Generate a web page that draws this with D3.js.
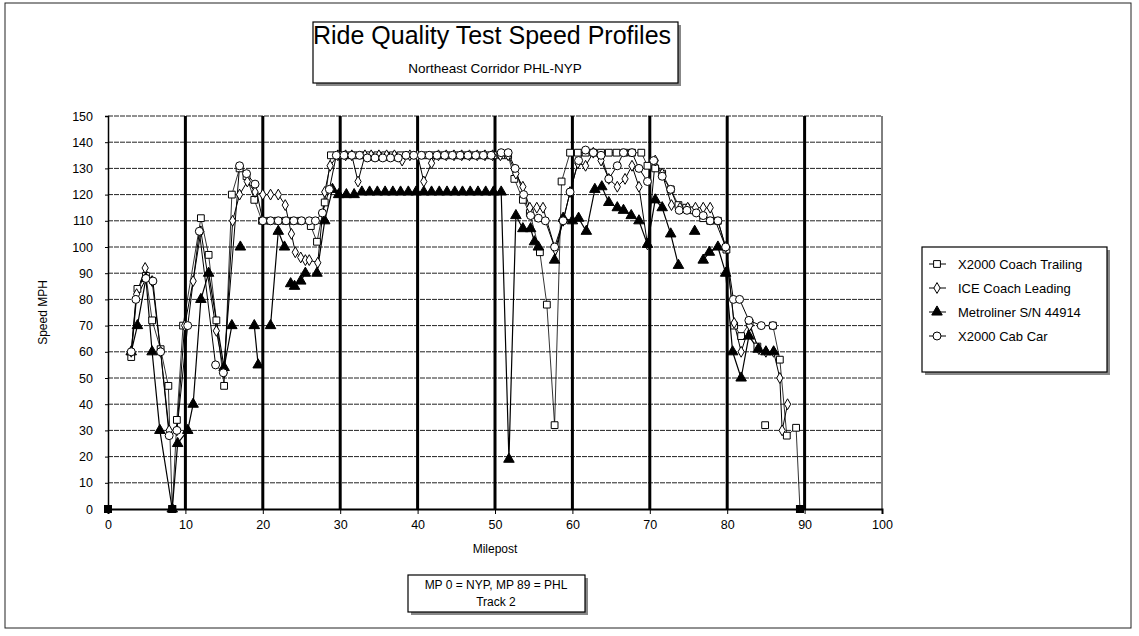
<!DOCTYPE html>
<html>
<head>
<meta charset="utf-8">
<script src="https://cdn.jsdelivr.net/npm/d3@7"></script>
<style>
  body { margin: 0; background: #fff; }
  svg { font-family: "Liberation Sans", Arial, sans-serif; }
</style>
</head>
<body>
<svg id="chart" width="1139" height="636"></svg>
<script>
// [milepost, mph]; null = gap in the series
const coachTrailing = [
  [3, 58], [3.8, 84], [4.9, 89], [5.7, 72], [6.8, 61], [7.8, 47], [8.3, 0], [8.9, 34], [9.7, 70],
  [12, 111], [13, 97], [14, 72], [15, 47], [16, 120], [17, 130], [17.9, 127], [18.9, 118],
  [19.9, 110], [20.9, 110], [21.9, 110], [22.9, 110], [23.9, 110], [24.9, 110], [26.2, 108],
  [27, 102], [28, 117], [28.8, 135], [29.8, 135], [30.8, 135], [31.8, 135], [32.8, 135],
  [33.8, 135], [34.8, 135], [35.8, 135], [36.8, 135], [37.8, 135], [38.8, 135], [39.8, 135],
  [40.8, 135], [41.8, 135], [42.8, 135], [43.8, 135], [44.8, 135], [45.8, 135], [46.8, 135],
  [47.8, 135], [48.8, 135], [49.8, 135], [50.8, 135], [51.7, 135], [52.5, 126], [53.6, 118],
  [54.5, 113], [55.8, 98], [56.7, 78], [57.7, 32], [58.6, 125], [59.7, 136], [60.7, 136],
  [61.7, 136], [62.7, 136], [63.7, 136], [64.7, 136], [65.7, 136], [66.7, 136], [67.7, 136],
  [68.9, 136], [69.7, 131], [70.7, 130], [71.6, 128], [72.7, 122], [73.7, 116], [74.7, 115],
  [75.7, 114], [76.9, 111], [77.8, 110], [78.8, 110], [79.9, 99], [80.9, 70], [81.8, 66],
  [82.9, 71], [83.9, 62], null, [84.9, 32], null, [85.9, 70], [86.8, 57], [87.7, 28],
  [88.9, 31], [89.4, 0]
];

const iceLeading = [
  [3, 60], [3.7, 82], [4.8, 92], [5.7, 87], [6.8, 60], [7.9, 30], [8.9, 30], [9.9, 70],
  [11, 87], [12, 106], [14, 68], [15, 52], [16.1, 110], [17, 120], [18, 125], [19, 121],
  [20, 120], [21, 120], [22, 120], [22.9, 116], [23.7, 105], [24.2, 98], [24.9, 96],
  [25.5, 95], [26, 95], [27.1, 94], [28, 121], [28.7, 131], [29.7, 135], [30.7, 135],
  [31.5, 135], [32.3, 125], [33.2, 135], [34, 135], [35, 135], [36, 135], [37, 135],
  [38, 133], [39, 135], [40, 135], [40.8, 125], [41.8, 132], [42.7, 135], [43.7, 135],
  [44.7, 135], [45.7, 135], [46.7, 135], [47.7, 135], [48.7, 135], [49.7, 135], [50.7, 135],
  [51.7, 135], [52.7, 128], [53.6, 123], [54.5, 115], [55.4, 115], [56.2, 115], [57.8, 99],
  [58.8, 110], [59.7, 121], [60.7, 132], [61.7, 131], [62.7, 136], [63.7, 133], [64.7, 126],
  [65.8, 123], [66.8, 126], [67.7, 131], [68.6, 123], [69.7, 101], [70.7, 133], [71.6, 128],
  [72.8, 116], [73.9, 115], [74.9, 115], [75.9, 115], [76.9, 115], [77.8, 115], [79.8, 100],
  [80.9, 71], [81.8, 60], [82.9, 70], [84.1, 61], [85, 60], [86, 60], [86.8, 50], [87.1, 30],
  [87.8, 40]
];

const metroliner = [
  [3, 60], [3.8, 70], [4.9, 88], [5.7, 60], [6.7, 30], [8.3, 0], [9, 25], [10.3, 30], [11, 40],
  [12, 80], [13, 90], [15, 54], [16, 70], null, [17.1, 100], null, [18.9, 70], [19.4, 55], null,
  [21, 70], [22, 106], [22.8, 100], null, [23.6, 86], [24.1, 85], null, [24.9, 87], [25.5, 90],
  null, [27, 90], [28, 110], [29, 122], [29.8, 120], [30.8, 120], [31.8, 120], [32.8, 121],
  [33.8, 121], [34.8, 121], [35.8, 121], [36.8, 121], [37.8, 121], [38.8, 121], [39.8, 121],
  [40.8, 121], [41.8, 121], [42.8, 121], [43.8, 121], [44.8, 121], [45.8, 121], [46.8, 121],
  [47.8, 121], [48.8, 121], [49.8, 121], [50.8, 121], [51.8, 19], [52.7, 112], [53.6, 107],
  [54.6, 107], [55.1, 102], [55.6, 100], null, [57.7, 95], [58.8, 111], [60, 110], [60.8, 111],
  [61.8, 106], [62.9, 122], [63.8, 123], [64.7, 117], [65.8, 115], [66.6, 114], [67.6, 112],
  [68.6, 110], [69.7, 101], [70.7, 118], [71.6, 115], [72.7, 105], [73.7, 93], null,
  [75.8, 106], null, [76.9, 95], [77.7, 98], [78.8, 100], [79.8, 90], [80.7, 60], [81.8, 50],
  [82.8, 66], [84, 61], [85, 60], [86, 60]
];

const cabCar = [
  [3, 60], [3.6, 80], [4.9, 88], [5.8, 87], [6.8, 60], [7.9, 28], [8.9, 30], [10.3, 70],
  [11.8, 106], [13.9, 55], [14.9, 52], [17, 131], [17.9, 128], [19, 124], [20, 110], [21, 110],
  [22, 110], [23, 110], [24, 110], [25, 110], [26, 110], [26.8, 110], [27.7, 113], [28.6, 122],
  [29.5, 135], [30.5, 135], [31.5, 135], [32.5, 135], [33.5, 134], [34.5, 134], [35.5, 134],
  [36.5, 134], [37.5, 134], [38.5, 135], [39.5, 135], [40.5, 135], [41.5, 135], [42.5, 135],
  [43.5, 135], [44.5, 135], [45.5, 135], [46.5, 135], [47.5, 135], [48.5, 135], [49.5, 135],
  [50.8, 136], [51.7, 136], [52.6, 130], [53.7, 120], [54.6, 112], [55.6, 111], [56.5, 110],
  [57.7, 100], [58.8, 110], [59.7, 121], [60.8, 133], [61.7, 137], [62.7, 136], [63.7, 135],
  [64.7, 126], [65.8, 131], [66.6, 136], [67.7, 136], [68.6, 130], [69.7, 125], [70.5, 133],
  [71.6, 127], [72.7, 122], [73.8, 114], [74.8, 114], [76, 113], [76.9, 112], [77.8, 110],
  [78.8, 110], [79.8, 100], [80.8, 80], [81.6, 80], [82.8, 72], [84.4, 70], [85.9, 70]
];

const zeroPoints = [[0, 0], [8.3, 0], [89.4, 0]];

const seriesNames = ['X2000 Coach Trailing', 'ICE Coach Leading', 'Metroliner S/N 44914', 'X2000 Cab Car'];
const xTicks = [0, 10, 20, 30, 40, 50, 60, 70, 80, 90, 100];
const yTicks = [0, 10, 20, 30, 40, 50, 60, 70, 80, 90, 100, 110, 120, 130, 140, 150];

const svg = d3.select('#chart');

const x = d3.scaleLinear().domain([0, 100]).range([108, 882]);
const y = d3.scaleLinear().domain([0, 150]).range([509, 116]);

// outer frame
svg.append('rect').attr('x', 5).attr('y', 3).attr('width', 1126).attr('height', 625)
  .attr('fill', 'none').attr('stroke', '#222').attr('stroke-width', 1);

// box with a grey drop shadow
const shadowBox = (x0, y0, w, h) => {
  svg.append('rect').attr('x', x0 + 3).attr('y', y0 + 3).attr('width', w).attr('height', h).attr('fill', '#888');
  svg.append('rect').attr('x', x0).attr('y', y0).attr('width', w).attr('height', h)
    .attr('fill', '#fff').attr('stroke', '#000').attr('stroke-width', 1.2);
};

// title
shadowBox(313, 22, 365, 61);
svg.append('text').attr('x', 313).attr('y', 44).style('font-size', '25px').text('Ride Quality Test Speed Profiles');
svg.append('text').attr('x', 495).attr('y', 73).attr('text-anchor', 'middle').style('font-size', '13.5px')
  .text('Northeast Corridor PHL-NYP');

// horizontal grid
svg.append('g').selectAll('line').data(yTicks.filter(d => d > 0)).enter().append('line')
  .attr('x1', x(0)).attr('x2', x(100)).attr('y1', d => y(d)).attr('y2', d => y(d))
  .attr('stroke', '#222').attr('stroke-width', 1).attr('stroke-dasharray', '5,1');

// vertical grid (heavy)
svg.append('g').selectAll('line').data(xTicks.filter(d => d > 0 && d < 100)).enter().append('line')
  .attr('x1', d => x(d)).attr('x2', d => x(d)).attr('y1', y(150)).attr('y2', y(0))
  .attr('stroke', '#000').attr('stroke-width', 3);
svg.append('line').attr('x1', x(100)).attr('x2', x(100)).attr('y1', y(150)).attr('y2', y(0))
  .attr('stroke', '#000').attr('stroke-width', 1);

// axes
const yAxis = svg.append('g').attr('transform', `translate(${x(0)},0)`)
  .call(d3.axisLeft(y).tickValues(yTicks).tickSize(3).tickPadding(12));
const xAxis = svg.append('g').attr('transform', `translate(0,${y(0)})`)
  .call(d3.axisBottom(x).tickValues(xTicks).tickSize(5).tickPadding(6));
[yAxis, xAxis].forEach(a => {
  a.select('.domain').attr('stroke', '#000').attr('stroke-width', 1.5);
  a.selectAll('.tick line').attr('stroke', '#000');
  a.selectAll('.tick text').style('font-size', '12.5px').attr('fill', '#000').style('font-family', '"Liberation Sans", Arial, sans-serif');
});
xAxis.select('.domain').attr('stroke-width', 2);

svg.append('text').attr('transform', `translate(47,${(y(0) + y(150)) / 2}) rotate(-90)`)
  .attr('text-anchor', 'middle').style('font-size', '12px').text('Speed MPH');
svg.append('text').attr('x', (x(0) + x(100)) / 2).attr('y', 553).attr('text-anchor', 'middle')
  .style('font-size', '12px').text('Milepost');

// series
const line = d3.line().defined(d => d !== null).x(d => x(d[0])).y(d => y(d[1]));

const symbols = {
  square: d3.symbol().type(d3.symbolSquare).size(46),
  diamond: d3.symbol().type(d3.symbolDiamond).size(34),
  triangle: d3.symbol().type(d3.symbolTriangle).size(48),
  circle: d3.symbol().type(d3.symbolCircle).size(50)
};

const series = [
  { data: coachTrailing, sym: 'square', fill: '#fff', width: 0.8 },
  { data: iceLeading, sym: 'diamond', fill: '#fff', width: 1 },
  { data: metroliner, sym: 'triangle', fill: '#000', width: 1.2 },
  { data: cabCar, sym: 'circle', fill: '#fff', width: 1 }
];

series.forEach(s => {
  svg.append('path').datum(s.data).attr('fill', 'none').attr('stroke', '#000')
    .attr('stroke-width', s.width).attr('d', line);
});
series.forEach(s => {
  svg.append('g').selectAll('path').data(s.data.filter(d => d !== null)).enter().append('path')
    .attr('d', symbols[s.sym]).attr('transform', d => `translate(${x(d[0])},${y(d[1])})`)
    .attr('fill', s.fill).attr('stroke', '#000').attr('stroke-width', 1);
});

svg.append('g').selectAll('rect').data(zeroPoints).enter().append('rect')
  .attr('x', d => x(d[0]) - 4).attr('y', d => y(d[1]) - 4).attr('width', 8).attr('height', 8)
  .attr('fill', '#000');

// legend
shadowBox(922, 247, 185, 125);
const legend = svg.append('g').selectAll('g').data(series).enter().append('g')
  .attr('transform', (d, i) => `translate(937,${264 + i * 24})`);
legend.append('line').attr('x1', -8).attr('x2', 9).attr('stroke', '#000').attr('stroke-width', 1);
legend.append('path').attr('d', d => symbols[d.sym]()).attr('fill', d => d.fill).attr('stroke', '#000');
legend.append('text').attr('x', 21).attr('dy', '0.35em').style('font-size', '13px')
  .text((d, i) => seriesNames[i]);

// note box
shadowBox(408, 575, 177, 37);
svg.append('text').attr('x', 496).attr('y', 589).attr('text-anchor', 'middle').style('font-size', '12px')
  .text('MP 0 = NYP, MP 89 = PHL');
svg.append('text').attr('x', 496).attr('y', 606).attr('text-anchor', 'middle').style('font-size', '12px')
  .text('Track 2');
</script>
</body>
</html>
